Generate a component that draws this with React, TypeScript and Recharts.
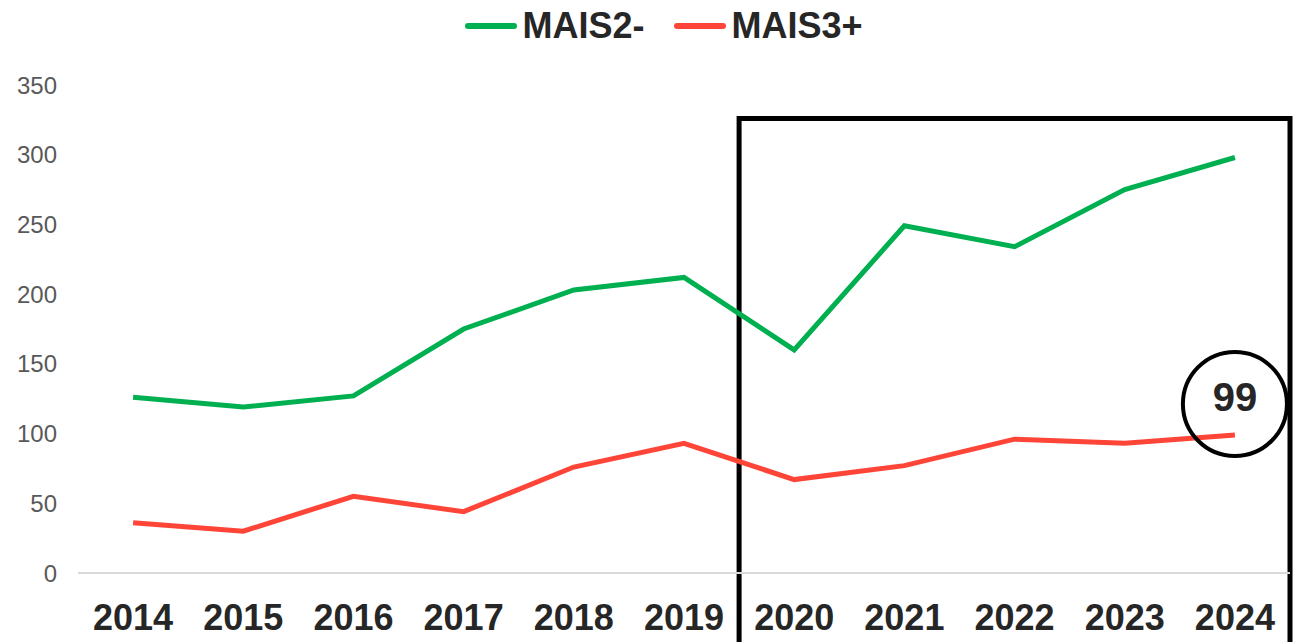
import { ComposedChart, Line, XAxis, YAxis, Legend, ReferenceArea, LabelList } from "recharts";

const years = ["2014", "2015", "2016", "2017", "2018", "2019", "2020", "2021", "2022", "2023", "2024"];
const mais2 = [126, 119, 127, 175, 203, 212, 160, 249, 234, 275, 298];
const mais3 = [36, 30, 55, 44, 76, 93, 67, 77, 96, 93, 99];
const yTicks = [0, 50, 100, 150, 200, 250, 300, 350];
const seriesNames = ["MAIS2-", "MAIS3+"];
const seriesColors = ["#00b050", "#ff4538"];
const highlightFrom = "2020";
const highlightTo = "2024";

const data = years.map((year, i) => ({ year, mais2: mais2[i], mais3: mais3[i] }));

const FONT = "'Liberation Sans', Arial, sans-serif";

function LegendBox() {
  return (
    <div style={{ display: "flex", justifyContent: "center", alignItems: "center", paddingLeft: 34, fontFamily: FONT }}>
      {seriesNames.map((name, i) => (
        <div key={name} style={{ display: "flex", alignItems: "center", marginRight: i === 0 ? 30 : 0 }}>
          <div style={{ width: 52, height: 6, borderRadius: 3, background: seriesColors[i], marginRight: 5 }} />
          <span style={{ fontSize: 36, fontWeight: 700, color: "#262626", lineHeight: "40px" }}>{name}</span>
        </div>
      ))}
    </div>
  );
}

function LastValueCircle(props: any) {
  const { x, y, value, index } = props;
  if (index !== years.length - 1) return null;
  return (
    <g>
      <circle cx={x} cy={y - 31} r={52} fill="none" stroke="#000" strokeWidth={4} />
      <text x={x} y={y - 24} textAnchor="middle" fontSize={40} fontWeight={700} fill="#262626" fontFamily={FONT}>
        {value}
      </text>
    </g>
  );
}

export default function App() {
  return (
    <div style={{ position: "absolute", left: 0, top: 0, background: "#fff" }}>
      <ComposedChart width={1294} height={642} data={data} margin={{ top: 45, right: 4, bottom: 0, left: 0 }}>
        <Legend verticalAlign="top" content={() => <LegendBox />} wrapperStyle={{ top: 6, left: 0, width: 1294 }} />
        <XAxis
          dataKey="year"
          scale="band"
          height={69}
          axisLine={{ stroke: "#d9d9d9", strokeWidth: 2 }}
          tickLine={false}
          tickSize={0}
          tickMargin={31}
          interval={0}
          tick={{ fill: "#262626", fontSize: 36, fontWeight: 700, fontFamily: FONT }}
        />
        <YAxis
          domain={[0, 350]}
          ticks={yTicks}
          width={78}
          axisLine={false}
          tickLine={false}
          tickSize={0}
          tickMargin={21}
          tick={{ fill: "#595959", fontSize: 24, fontFamily: FONT }}
        />
        <ReferenceArea
          x1={highlightFrom}
          x2={highlightTo}
          y1={-60}
          y2={326}
          ifOverflow="visible"
          fill="none"
          stroke="#000"
          strokeWidth={5}
        />
        <Line type="linear" dataKey="mais2" name={seriesNames[0]} stroke={seriesColors[0]} strokeWidth={5} dot={false} isAnimationActive={false} />
        <Line type="linear" dataKey="mais3" name={seriesNames[1]} stroke={seriesColors[1]} strokeWidth={5} dot={false} isAnimationActive={false}>
          <LabelList dataKey="mais3" content={LastValueCircle} />
        </Line>
      </ComposedChart>
    </div>
  );
}
